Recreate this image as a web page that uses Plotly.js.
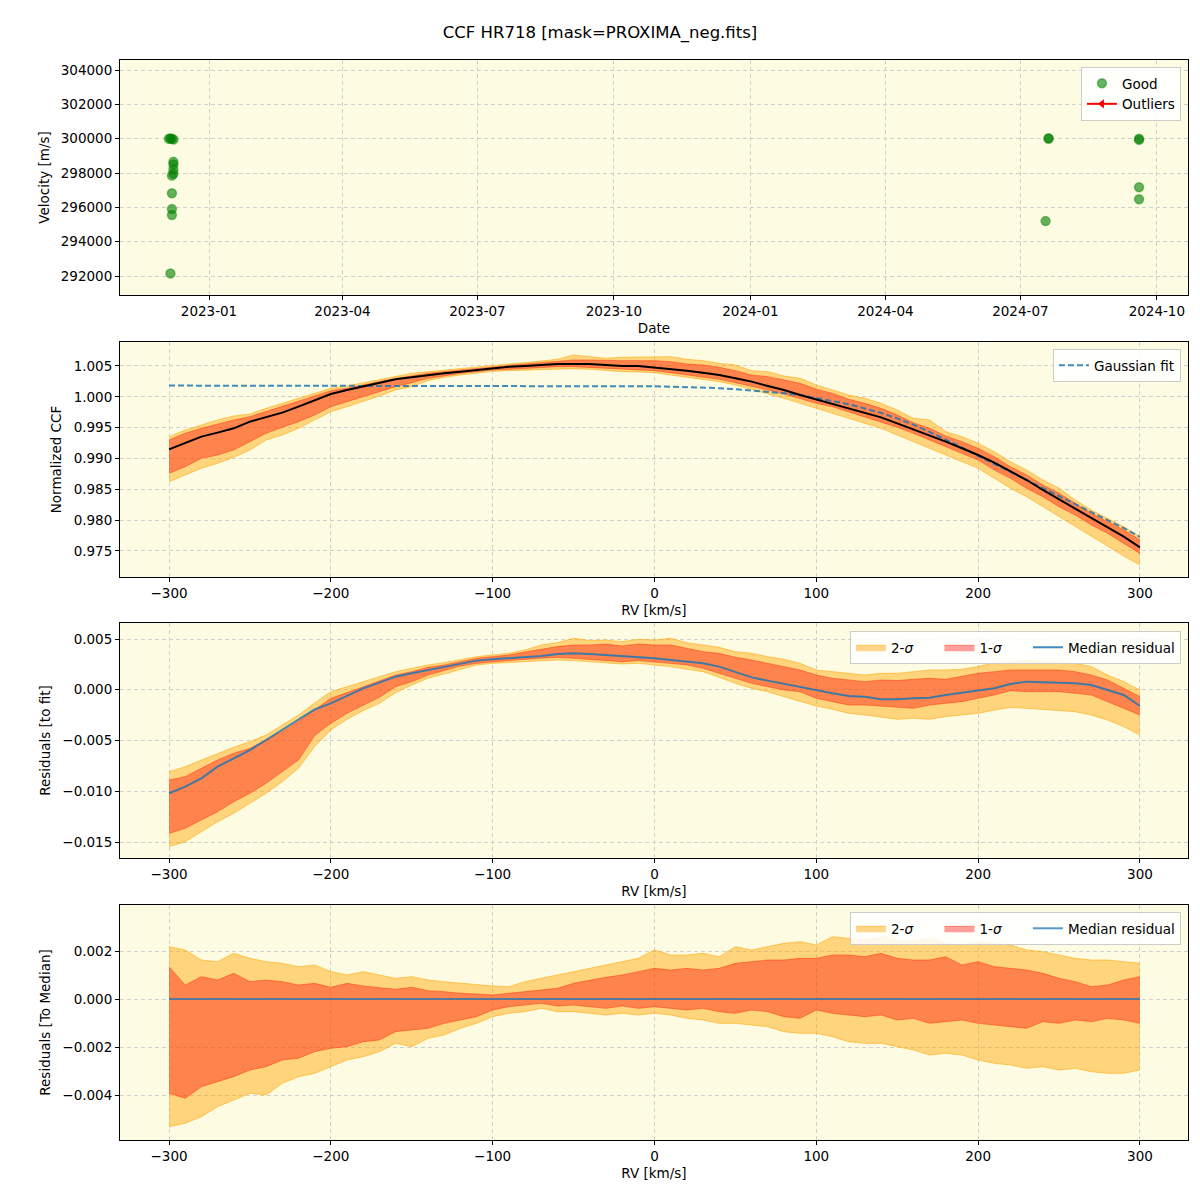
<!DOCTYPE html>
<html>
<head>
<meta charset="utf-8">
<script src="https://cdn.plot.ly/plotly-3.0.1.min.js"></script>
<style>html,body{margin:0;padding:0;background:#fff;}#chart{width:1200px;height:1200px;}</style>
</head>
<body>
<div id="chart"></div>
<script>
// ---------- Panel 1: velocities ----------
const goodDates = ['2022-12-05','2022-12-06','2022-12-07','2022-12-08','2022-12-08','2022-12-08','2022-12-08','2022-12-08','2022-12-07','2022-12-07','2022-12-07','2022-12-07','2022-12-06','2024-07-20','2024-07-20','2024-07-18','2024-09-19','2024-09-19','2024-09-19','2024-09-19'];
const goodRV = [300000,300010,299990,299950,298650,298500,298200,297950,297850,296820,295900,295550,292150,300000,300020,295200,300000,299930,297170,296470];
const outlierDates = [null];
const outlierRV = [null];

// ---------- RV grid (km/s) ----------
const rvGrid = [-300,-290,-280,-270,-260,-250,-240,-230,-220,-210,-200,-190,-180,-170,-160,-150,-140,-130,-120,-110,-100,-90,-80,-70,-60,-50,-40,-30,-20,-10,0,10,20,30,40,50,60,70,80,90,100,110,120,130,140,150,160,170,180,190,200,210,220,230,240,250,260,270,280,290,300];

// ---------- Panel 2: normalized CCF ----------
const ccfMedian = [0.99148,0.99246,0.99354,0.99419,0.99489,0.99597,0.99667,0.99743,0.99840,0.99948,
1.00046,1.00110,1.00165,1.00230,1.00284,1.00316,1.00354,1.00381,1.00408,1.00435,
1.00462,1.00489,1.00500,1.00516,1.00533,1.00533,1.00533,1.00516,1.00500,1.00500,
1.00478,1.00446,1.00424,1.00392,1.00354,1.00300,1.00246,1.00176,1.00111,1.00030,
0.99959,0.99884,0.99813,0.99743,0.99667,0.99570,0.99473,0.99381,0.99273,0.99165,
0.99056,0.98932,0.98786,0.98651,0.98489,0.98337,0.98191,0.98045,0.97894,0.97732,0.97559];
const gaussFit = [1.00182,1.00182,1.00182,1.00182,1.00182,1.00182,1.00182,1.00182,1.00182,1.00182,
1.00182,1.00182,1.00181,1.00181,1.00181,1.00181,1.00180,1.00180,1.00180,1.00179,
1.00179,1.00178,1.00178,1.00177,1.00176,1.00175,1.00174,1.00173,1.00172,1.00171,
1.00170,1.00165,1.00160,1.00150,1.00140,1.00122,1.00103,1.00081,1.00057,1.00030,
0.99976,0.99930,0.99880,0.99810,0.99740,0.99650,0.99550,0.99430,0.99310,0.99180,
0.99040,0.98910,0.98780,0.98650,0.98530,0.98400,0.98270,0.98130,0.98000,0.97870,0.97730];
const ccf2Hi = [0.99354,0.99462,0.99543,0.99624,0.99689,0.99721,0.99813,0.99894,0.99976,1.00057,
1.00138,1.00176,1.00230,1.00284,1.00327,1.00381,1.00408,1.00435,1.00462,1.00489,
1.00511,1.00532,1.00554,1.00586,1.00608,1.00678,1.00651,1.00624,1.00641,1.00641,
1.00651,1.00651,1.00608,1.00586,1.00543,1.00516,1.00424,1.00408,1.00338,1.00300,
1.00192,1.00111,1.00030,0.99976,0.99894,0.99786,0.99651,0.99624,0.99435,0.99354,
0.99246,0.99110,0.98948,0.98813,0.98651,0.98516,0.98326,0.98164,0.98029,0.97894,0.97732];
const ccf1Hi = [0.99300,0.99408,0.99489,0.99559,0.99624,0.99678,0.99759,0.99840,0.99921,1.00013,
1.00100,1.00138,1.00192,1.00246,1.00300,1.00338,1.00381,1.00408,1.00435,1.00462,
1.00489,1.00511,1.00532,1.00554,1.00570,1.00597,1.00597,1.00586,1.00586,1.00586,
1.00586,1.00570,1.00532,1.00516,1.00478,1.00424,1.00354,1.00327,1.00273,1.00219,
1.00122,1.00057,0.99959,0.99894,0.99813,0.99705,0.99581,0.99489,0.99365,0.99273,
0.99164,0.99029,0.98867,0.98732,0.98570,0.98435,0.98272,0.98110,0.97975,0.97840,0.97678];
const ccf1Lo = [0.98759,0.98867,0.99002,0.99056,0.99137,0.99273,0.99408,0.99505,0.99597,0.99705,
0.99840,0.99921,1.00003,1.00084,1.00165,1.00230,1.00300,1.00338,1.00381,1.00408,
1.00435,1.00446,1.00462,1.00478,1.00489,1.00489,1.00478,1.00462,1.00446,1.00435,
1.00424,1.00392,1.00354,1.00327,1.00284,1.00230,1.00176,1.00111,1.00046,0.99976,
0.99894,0.99840,0.99759,0.99678,0.99597,0.99505,0.99408,0.99300,0.99191,0.99083,
0.98975,0.98813,0.98678,0.98516,0.98380,0.98218,0.98083,0.97921,0.97786,0.97623,0.97461];
const ccf2Lo = [0.98624,0.98732,0.98840,0.98921,0.99018,0.99137,0.99300,0.99381,0.99489,0.99624,
0.99759,0.99840,0.99921,1.00013,1.00111,1.00165,1.00262,1.00316,1.00354,1.00381,
1.00413,1.00424,1.00435,1.00446,1.00457,1.00457,1.00446,1.00424,1.00408,1.00403,
1.00392,1.00354,1.00316,1.00284,1.00246,1.00192,1.00122,1.00057,0.99976,0.99894,
0.99813,0.99732,0.99651,0.99570,0.99489,0.99381,0.99273,0.99164,0.99056,0.98948,
0.98840,0.98678,0.98516,0.98380,0.98218,0.98056,0.97894,0.97732,0.97569,0.97418,0.97272];

// ---------- Panel 3: residuals to fit ----------
const fitResMedian = [-0.01020,-0.00955,-0.00873,-0.00758,-0.00676,-0.00594,-0.00495,-0.00396,-0.00298,-0.00193,
-0.00134,-0.00061,0.00014,0.00070,0.00129,0.00162,0.00195,0.00228,0.00260,0.00287,
0.00300,0.00310,0.00326,0.00333,0.00352,0.00359,0.00352,0.00342,0.00333,0.00326,
0.00310,0.00293,0.00277,0.00260,0.00228,0.00178,0.00122,0.00090,0.00057,0.00030,
-0.00009,-0.00035,-0.00061,-0.00068,-0.00094,-0.00094,-0.00084,-0.00078,-0.00052,-0.00029,
-0.00002,0.00014,0.00057,0.00080,0.00073,0.00070,0.00063,0.00047,-0.00002,-0.00052,-0.00160];
const fitRes2Hi = [-0.00807,-0.00758,-0.00692,-0.00626,-0.00567,-0.00511,-0.00446,-0.00347,-0.00249,-0.00130,
-0.00019,0.00030,0.00080,0.00129,0.00178,0.00211,0.00244,0.00267,0.00300,0.00326,
0.00342,0.00359,0.00392,0.00441,0.00464,0.00507,0.00484,0.00490,0.00474,0.00497,
0.00490,0.00507,0.00464,0.00441,0.00418,0.00375,0.00359,0.00326,0.00300,0.00260,
0.00195,0.00178,0.00162,0.00145,0.00162,0.00162,0.00178,0.00195,0.00195,0.00201,
0.00228,0.00267,0.00277,0.00287,0.00277,0.00277,0.00260,0.00228,0.00145,0.00080,-0.00002];
const fitRes1Hi = [-0.00889,-0.00856,-0.00774,-0.00692,-0.00626,-0.00577,-0.00495,-0.00413,-0.00314,-0.00200,
-0.00084,-0.00029,0.00030,0.00090,0.00145,0.00178,0.00221,0.00244,0.00277,0.00310,
0.00326,0.00342,0.00372,0.00398,0.00425,0.00441,0.00441,0.00451,0.00431,0.00451,
0.00441,0.00441,0.00408,0.00375,0.00359,0.00320,0.00293,0.00260,0.00228,0.00195,
0.00145,0.00113,0.00096,0.00080,0.00096,0.00090,0.00103,0.00113,0.00103,0.00129,
0.00162,0.00178,0.00195,0.00195,0.00195,0.00195,0.00178,0.00145,0.00096,0.00014,-0.00068];
const fitRes1Lo = [-0.01415,-0.01365,-0.01283,-0.01201,-0.01103,-0.01020,-0.00922,-0.00807,-0.00692,-0.00450,
-0.00331,-0.00232,-0.00150,-0.00075,0.00030,0.00080,0.00145,0.00188,0.00234,0.00260,
0.00277,0.00287,0.00300,0.00310,0.00320,0.00310,0.00300,0.00293,0.00277,0.00287,
0.00277,0.00260,0.00244,0.00211,0.00162,0.00113,0.00063,0.00030,-0.00002,-0.00019,
-0.00084,-0.00117,-0.00150,-0.00150,-0.00160,-0.00167,-0.00183,-0.00150,-0.00134,-0.00117,
-0.00084,-0.00052,-0.00009,-0.00019,-0.00019,-0.00019,-0.00035,-0.00052,-0.00117,-0.00183,-0.00249];
const fitRes2Lo = [-0.01546,-0.01497,-0.01398,-0.01300,-0.01217,-0.01119,-0.01020,-0.00906,-0.00774,-0.00560,
-0.00396,-0.00291,-0.00206,-0.00134,-0.00029,0.00047,0.00113,0.00155,0.00201,0.00244,
0.00260,0.00267,0.00277,0.00287,0.00293,0.00287,0.00277,0.00260,0.00254,0.00260,
0.00244,0.00228,0.00201,0.00178,0.00122,0.00063,0.00014,-0.00019,-0.00068,-0.00117,
-0.00160,-0.00193,-0.00232,-0.00249,-0.00272,-0.00291,-0.00281,-0.00291,-0.00265,-0.00249,
-0.00232,-0.00200,-0.00173,-0.00183,-0.00193,-0.00200,-0.00216,-0.00249,-0.00298,-0.00364,-0.00446];

// ---------- Panel 4: residuals to median ----------
const medResMedian = [0,0,0,0,0,0,0,0,0,0,0,0,0,0,0,0,0,0,0,0,0,0,0,0,0,0,0,0,0,0,0,0,0,0,0,0,0,0,0,0,0,0,0,0,0,0,0,0,0,0,0,0,0,0,0,0,0,0,0,0,0];
const medRes2Hi = [0.002181,0.002042,0.001625,0.001556,0.001903,0.001694,0.001556,0.001486,0.001347,0.001417,
0.001139,0.001000,0.001139,0.001000,0.000861,0.000931,0.000792,0.000722,0.000653,0.000583,
0.000542,0.000514,0.000722,0.000861,0.001000,0.001139,0.001278,0.001417,0.001556,0.001694,
0.002042,0.001833,0.001833,0.001903,0.001764,0.002181,0.002042,0.002181,0.002319,0.002389,
0.002250,0.002597,0.002528,0.002458,0.002597,0.002458,0.002389,0.002528,0.002319,0.002250,
0.002389,0.002319,0.002250,0.002042,0.001972,0.001833,0.001694,0.001625,0.001625,0.001556,0.001486];
const medRes1Hi = [0.001347,0.000583,0.000931,0.000792,0.001069,0.000722,0.000792,0.000722,0.000583,0.000653,
0.000486,0.000653,0.000542,0.000486,0.000403,0.000486,0.000347,0.000306,0.000236,0.000208,
0.000167,0.000236,0.000306,0.000375,0.000444,0.000653,0.000792,0.000903,0.001000,0.001139,
0.001278,0.001208,0.001278,0.001208,0.001278,0.001486,0.001556,0.001625,0.001625,0.001694,
0.001694,0.001833,0.001833,0.001764,0.001903,0.001694,0.001625,0.001625,0.001764,0.001417,
0.001556,0.001347,0.001278,0.001208,0.001069,0.000861,0.000722,0.000514,0.000583,0.000792,0.000931];
const medRes1Lo = [-0.003931,-0.004139,-0.003653,-0.003444,-0.003236,-0.002958,-0.002819,-0.002542,-0.002472,-0.002194,
-0.002056,-0.001986,-0.001778,-0.001708,-0.001361,-0.001292,-0.001222,-0.001014,-0.000875,-0.000736,
-0.000458,-0.000319,-0.000250,-0.000181,-0.000292,-0.000250,-0.000319,-0.000389,-0.000292,-0.000389,
-0.000319,-0.000389,-0.000458,-0.000389,-0.000528,-0.000597,-0.000458,-0.000528,-0.000736,-0.000806,
-0.000458,-0.000597,-0.000667,-0.000736,-0.000667,-0.000875,-0.000806,-0.001014,-0.000944,-0.000875,
-0.001014,-0.001083,-0.001153,-0.001222,-0.000944,-0.001014,-0.000875,-0.000944,-0.000806,-0.000875,-0.001014];
const medRes2Lo = [-0.005319,-0.005181,-0.004903,-0.004486,-0.004208,-0.003931,-0.004000,-0.003514,-0.003236,-0.003097,
-0.002819,-0.002542,-0.002403,-0.002194,-0.001847,-0.001986,-0.001639,-0.001500,-0.001222,-0.001014,
-0.000736,-0.000597,-0.000528,-0.000389,-0.000528,-0.000528,-0.000597,-0.000667,-0.000597,-0.000667,
-0.000597,-0.000667,-0.000806,-0.000875,-0.001014,-0.001014,-0.001083,-0.001153,-0.001361,-0.001431,
-0.001431,-0.001569,-0.001778,-0.001847,-0.001847,-0.001986,-0.002125,-0.002333,-0.002264,-0.002333,
-0.002542,-0.002681,-0.002750,-0.002889,-0.002819,-0.002958,-0.002889,-0.003028,-0.003097,-0.003097,-0.002958];

// ---------- styles ----------
const FONT = 'DejaVu Sans, Arial, sans-serif';
const C2 = 'rgba(255,165,0,0.45)', C2L = 'rgba(255,165,0,0.55)';
const C1 = 'rgba(255,0,0,0.38)',  C1L = 'rgba(255,40,0,0.45)';
const BLUE = 'rgba(31,119,180,0.85)';
const PAD = '&nbsp;&nbsp;&nbsp;&nbsp;&nbsp;';

function bands(xa, ya, lo2, hi2, lo1, hi1, legendName, showLeg) {
  return [
    {x: rvGrid, y: lo2, xaxis: xa, yaxis: ya, type: 'scatter', mode: 'lines', line: {color: C2L, width: 1}, showlegend: false, hoverinfo: 'skip'},
    {x: rvGrid, y: hi2, xaxis: xa, yaxis: ya, type: 'scatter', mode: 'lines', line: {color: C2L, width: 1}, fill: 'tonexty', fillcolor: C2,
     name: '2-<i>σ</i>' + PAD, showlegend: showLeg, legend: legendName},
    {x: rvGrid, y: lo1, xaxis: xa, yaxis: ya, type: 'scatter', mode: 'lines', line: {color: C1L, width: 1}, showlegend: false, hoverinfo: 'skip'},
    {x: rvGrid, y: hi1, xaxis: xa, yaxis: ya, type: 'scatter', mode: 'lines', line: {color: C1L, width: 1}, fill: 'tonexty', fillcolor: C1,
     name: '1-<i>σ</i>' + PAD, showlegend: showLeg, legend: legendName}
  ];
}

const traces = [];
// panel 1
traces.push({x: goodDates, y: goodRV, xaxis: 'x', yaxis: 'y', type: 'scatter', mode: 'markers', name: 'Good',
  marker: {color: 'rgba(0,128,0,0.6)', size: 9, line: {width: 1.5, color: 'rgba(0,128,0,0.45)'}}, legend: 'legend'});
traces.push({x: outlierDates, y: outlierRV, xaxis: 'x', yaxis: 'y', type: 'scatter', mode: 'lines+markers', name: 'Outliers',
  line: {color: 'red', width: 2}, marker: {symbol: 'triangle-left', color: 'red', size: 8}, legend: 'legend'});
// panel 2
bands('x2', 'y2', ccf2Lo, ccf2Hi, ccf1Lo, ccf1Hi, 'legend2', false).forEach(t => traces.push(t));
traces.push({x: rvGrid, y: gaussFit, xaxis: 'x2', yaxis: 'y2', type: 'scatter', mode: 'lines', name: 'Gaussian fit',
  line: {color: BLUE, width: 2, dash: '6px,3px'}, legend: 'legend2'});
traces.push({x: rvGrid, y: ccfMedian, xaxis: 'x2', yaxis: 'y2', type: 'scatter', mode: 'lines', name: 'Median CCF',
  line: {color: 'black', width: 2}, showlegend: false});
// panel 3
bands('x3', 'y3', fitRes2Lo, fitRes2Hi, fitRes1Lo, fitRes1Hi, 'legend3', true).forEach(t => traces.push(t));
traces.push({x: rvGrid, y: fitResMedian, xaxis: 'x3', yaxis: 'y3', type: 'scatter', mode: 'lines', name: 'Median residual',
  line: {color: BLUE, width: 2}, legend: 'legend3'});
// panel 4
bands('x4', 'y4', medRes2Lo, medRes2Hi, medRes1Lo, medRes1Hi, 'legend4', true).forEach(t => traces.push(t));
traces.push({x: rvGrid, y: medResMedian, xaxis: 'x4', yaxis: 'y4', type: 'scatter', mode: 'lines', name: 'Median residual',
  line: {color: 'rgba(31,119,180,0.75)', width: 2}, legend: 'legend4'});

function ax(extra) {
  return Object.assign({
    showline: true, mirror: true, linecolor: 'black', linewidth: 1,
    ticks: 'outside', ticklen: 4, tickwidth: 1, tickcolor: 'black',
    showgrid: true, gridcolor: '#d0d0d0', griddash: '4px,3px', gridwidth: 1,
    zeroline: false, tickfont: {family: FONT, size: 13.5, color: 'black'}
  }, extra);
}
function ttl(t, s) { return {text: t, font: {family: FONT, size: 13.5, color: 'black'}, standoff: s}; }
function leg(y, horiz) {
  return {x: 0.9934, y: y, xanchor: 'right', yanchor: 'top', xref: 'paper', yref: 'paper',
    orientation: horiz ? 'h' : 'v', bgcolor: 'rgba(255,255,255,0.85)', bordercolor: '#cccccc', borderwidth: 1,
    font: {family: FONT, size: 13.5, color: 'black'}, traceorder: 'normal'};
}

const layout = {
  width: 1200, height: 1200,
  margin: {l: 120, r: 12, t: 60, b: 60},
  paper_bgcolor: 'white', plot_bgcolor: '#fdfbe2',
  font: {family: FONT, color: 'black'},
  title: {text: 'CCF HR718 [mask=PROXIMA_neg.fits]', x: 0.5, xanchor: 'center', y: 0.9733, yanchor: 'middle',
    font: {family: FONT, size: 16.5, color: 'black'}},
  showlegend: true,
  legend: leg(0.9935, false),
  legend2: leg(0.7324, false),
  legend3: leg(0.4713, true),
  legend4: leg(0.2111, true),
  xaxis: ax({domain: [0, 1], anchor: 'y', type: 'date', range: ['2022-11-02', '2024-10-22'],
    tick0: '2023-01-01', dtick: 'M3', tickformat: '%Y-%m', title: ttl('Date', 5)}),
  yaxis: ax({domain: [0.7824, 1], anchor: 'x', range: [290893, 304583], dtick: 2000, tickformat: 'd',
    title: ttl('Velocity [m/s]', 8)}),
  xaxis2: ax({domain: [0, 1], anchor: 'y2', range: [-330.3, 329.7], dtick: 100, title: ttl('RV [km/s]', 5)}),
  yaxis2: ax({domain: [0.5213, 0.7389], anchor: 'x2', range: [0.97078, 1.00889], dtick: 0.005, tickformat: '.3f',
    title: ttl('Normalized CCF', 8)}),
  xaxis3: ax({domain: [0, 1], anchor: 'y3', range: [-330.3, 329.7], dtick: 100, title: ttl('RV [km/s]', 5)}),
  yaxis3: ax({domain: [0.2611, 0.4787], anchor: 'x3', range: [-0.016576, 0.006576], dtick: 0.005, tickformat: '.3f',
    title: ttl('Residuals [to fit]', 8)}),
  xaxis4: ax({domain: [0, 1], anchor: 'y4', range: [-330.3, 329.7], dtick: 100, title: ttl('RV [km/s]', 5)}),
  yaxis4: ax({domain: [0, 0.2176], anchor: 'x4', range: [-0.005875, 0.003917], dtick: 0.002, tickformat: '.3f',
    title: ttl('Residuals [To Median]', 8)})
};

Plotly.newPlot('chart', traces, layout, {staticPlot: true, displayModeBar: false});
</script>
</body>
</html>
